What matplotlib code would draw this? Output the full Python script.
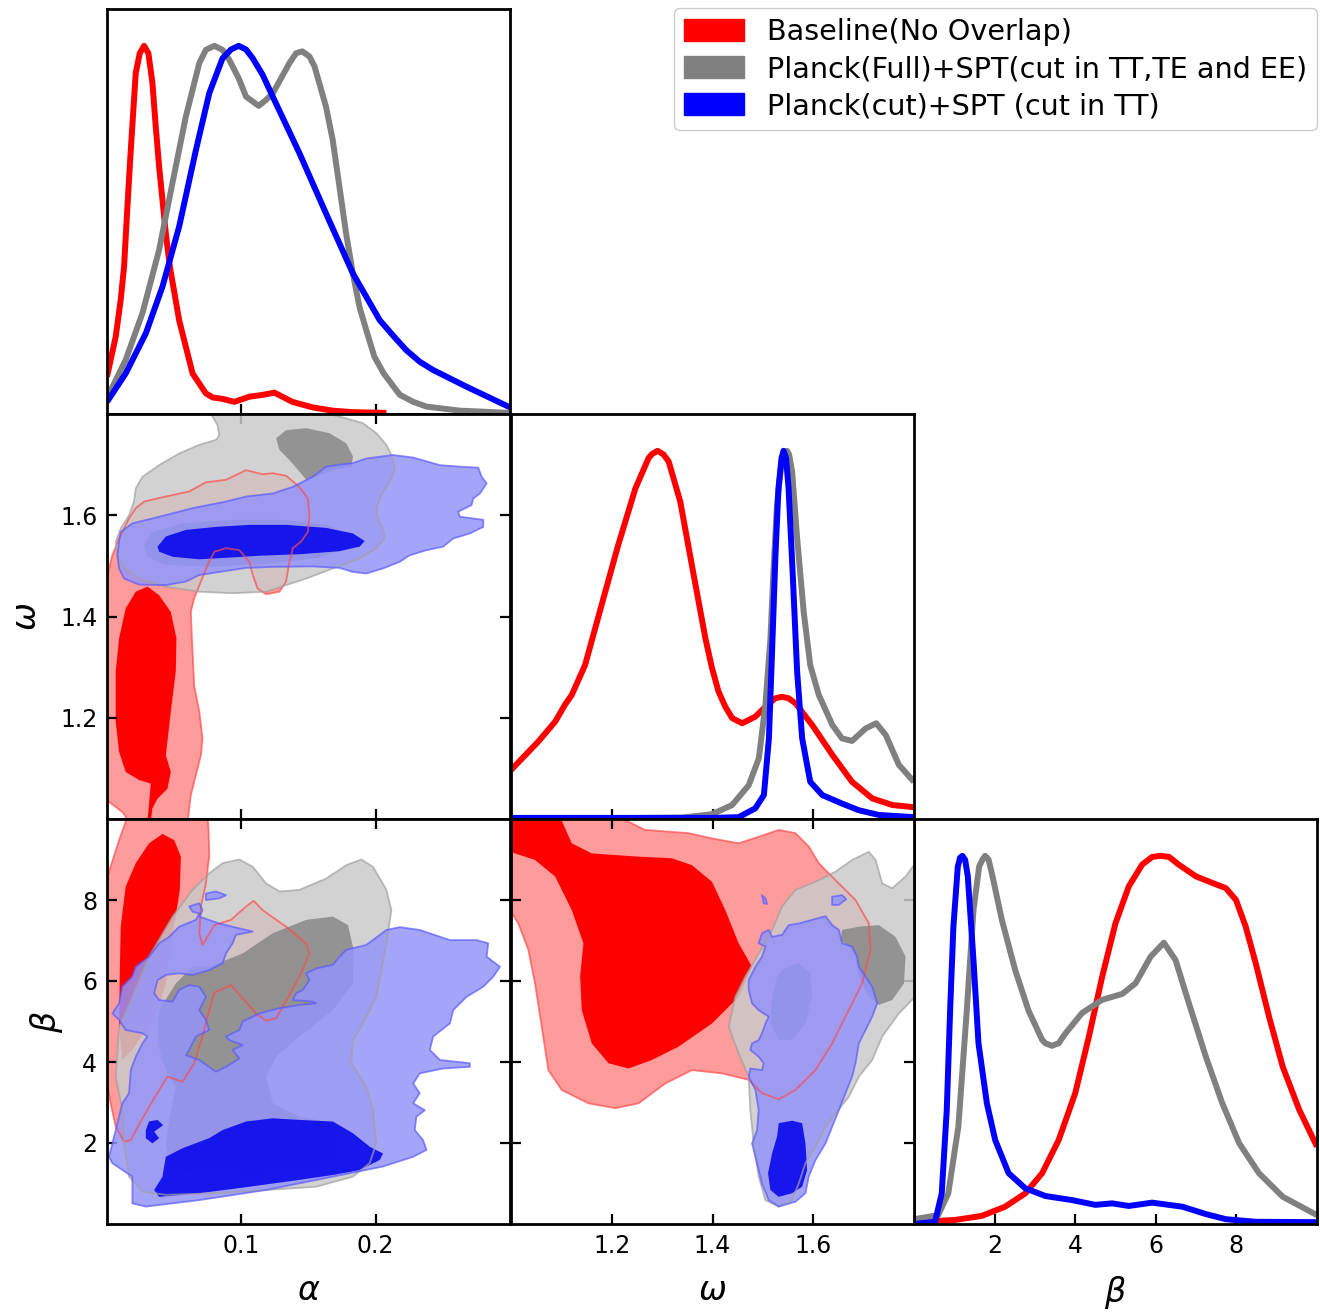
import numpy as np
import matplotlib.pyplot as plt
from matplotlib.patches import Patch

# ---------------- 1D marginals (normalised, peak = 1) ----------------
alpha_red_x = [0.0, 0.0027, 0.0065, 0.0102, 0.0127, 0.0152, 0.0177, 0.0214, 0.0244, 0.0276, 0.0308, 0.0338,
               0.0363, 0.0388, 0.0438, 0.0468, 0.0537, 0.0637, 0.0736, 0.0786, 0.086, 0.0948, 0.106, 0.116,
               0.1246, 0.138, 0.153, 0.168, 0.183, 0.208]
alpha_red_p = [0.101, 0.147, 0.21, 0.31, 0.40, 0.563, 0.717, 0.926, 0.98, 1.0, 0.98, 0.90,
               0.78, 0.672, 0.49, 0.40, 0.255, 0.11, 0.056, 0.045, 0.041, 0.033, 0.047, 0.052,
               0.058, 0.033, 0.018, 0.009, 0.005, 0.003]
alpha_gray_x = [0.0, 0.0139, 0.0264, 0.0388, 0.0487, 0.0587, 0.0687, 0.0736, 0.0799, 0.086, 0.091, 0.098,
                0.1035, 0.1129, 0.1184, 0.1234, 0.1358, 0.1408, 0.1453, 0.1507, 0.1545, 0.163, 0.168, 0.173,
                0.178, 0.183, 0.188, 0.193, 0.199, 0.206, 0.218, 0.228, 0.238, 0.263, 0.3]
alpha_gray_p = [0.043, 0.147, 0.274, 0.446, 0.627, 0.808, 0.953, 0.989, 1.0, 0.989, 0.962, 0.912,
                0.862, 0.837, 0.853, 0.871, 0.953, 0.98, 0.985, 0.971, 0.944, 0.835, 0.745, 0.618,
                0.49, 0.382, 0.29, 0.228, 0.156, 0.11, 0.052, 0.033, 0.02, 0.009, 0.003]
alpha_blue_x = [0.0, 0.0139, 0.0289, 0.0413, 0.0537, 0.0662, 0.0761, 0.086, 0.0923, 0.098, 0.1035, 0.1085,
                0.1159, 0.1234, 0.1433, 0.163, 0.183, 0.203, 0.2137, 0.2226, 0.2328, 0.2425, 0.2677, 0.3]
alpha_blue_p = [0.033, 0.11, 0.219, 0.346, 0.509, 0.717, 0.871, 0.966, 0.99, 1.0, 0.99, 0.966,
                0.921, 0.862, 0.708, 0.545, 0.382, 0.255, 0.21, 0.174, 0.142, 0.12, 0.074, 0.018]

omega_red_x = [1.0, 1.054, 1.0875, 1.107, 1.1206, 1.147, 1.18, 1.213, 1.247, 1.273, 1.2797, 1.291, 1.3028,
               1.313, 1.336, 1.359, 1.386, 1.399, 1.412, 1.4254, 1.439, 1.459, 1.485, 1.512, 1.525, 1.538,
               1.551, 1.565, 1.598, 1.638, 1.677, 1.717, 1.757, 1.8]
omega_red_p = [0.133, 0.21, 0.264, 0.31, 0.337, 0.418, 0.582, 0.745, 0.898, 0.98, 0.991, 1.0, 0.99,
               0.971, 0.862, 0.69, 0.49, 0.41, 0.346, 0.305, 0.274, 0.26, 0.278, 0.314, 0.328, 0.332,
               0.328, 0.314, 0.255, 0.174, 0.101, 0.056, 0.038, 0.032]
omega_gray_x = [1.0, 1.2, 1.34, 1.399, 1.439, 1.472, 1.492, 1.505, 1.515, 1.521, 1.528, 1.538, 1.543, 1.548,
                1.552, 1.558, 1.568, 1.581, 1.594, 1.611, 1.638, 1.657, 1.677, 1.704, 1.725, 1.744, 1.77, 1.8]
omega_gray_p = [0.002, 0.002, 0.004, 0.013, 0.038, 0.092, 0.165, 0.31, 0.49, 0.672, 0.853, 0.98, 0.995, 1.0,
                0.99, 0.944, 0.763, 0.563, 0.418, 0.337, 0.255, 0.219, 0.212, 0.246, 0.26, 0.228, 0.147, 0.101]
omega_blue_x = [1.0, 1.2, 1.4, 1.452, 1.485, 1.502, 1.512, 1.518, 1.525, 1.531, 1.537, 1.541, 1.546, 1.551,
                1.559, 1.568, 1.578, 1.594, 1.618, 1.657, 1.69, 1.73, 1.8]
omega_blue_p = [0.003, 0.003, 0.003, 0.005, 0.029, 0.065, 0.219, 0.446, 0.717, 0.899, 0.98, 1.0, 0.98, 0.899,
                0.672, 0.4, 0.219, 0.101, 0.065, 0.042, 0.024, 0.011, 0.005]

beta_red_x = [0.0, 1.02, 1.68, 2.26, 2.76, 3.18, 3.59, 4.0, 4.34, 4.67, 5.0, 5.33, 5.66, 5.91, 6.12, 6.33,
              6.57, 7.0, 7.32, 7.74, 7.99, 8.23, 8.48, 8.81, 9.15, 9.56, 10.0]
beta_red_p = [0.005, 0.011, 0.022, 0.047, 0.083, 0.138, 0.228, 0.355, 0.509, 0.672, 0.817, 0.917, 0.976,
              0.997, 1.0, 0.997, 0.976, 0.944, 0.93, 0.912, 0.88, 0.808, 0.708, 0.563, 0.427, 0.31, 0.21]
beta_gray_x = [0.0, 0.6, 0.85, 1.1, 1.31, 1.476, 1.617, 1.7, 1.766, 1.85, 1.949, 2.18, 2.51, 2.84, 3.18,
               3.26, 3.42, 3.59, 3.76, 4.17, 4.67, 5.17, 5.5, 5.87, 6.2, 6.49, 6.82, 7.24, 7.65, 8.07, 8.56,
               9.15, 10.0]
beta_gray_p = [0.013, 0.024, 0.083, 0.264, 0.58, 0.853, 0.971, 0.99, 1.0, 0.99, 0.944, 0.826, 0.69, 0.58,
               0.5, 0.491, 0.484, 0.491, 0.518, 0.573, 0.609, 0.625, 0.654, 0.726, 0.764, 0.717, 0.6, 0.455,
               0.328, 0.219, 0.138, 0.074, 0.024]
beta_blue_x = [0.0, 0.522, 0.688, 0.813, 0.896, 0.978, 1.087, 1.144, 1.2, 1.269, 1.335, 1.476, 1.6, 1.808,
               2.015, 2.347, 2.76, 3.26, 3.92, 4.5, 4.92, 5.33, 5.91, 6.66, 7.24, 7.74, 8.48, 10.0]
beta_blue_p = [0.0, 0.006, 0.083, 0.31, 0.58, 0.808, 0.971, 0.995, 1.0, 0.989, 0.944, 0.717, 0.491, 0.328,
               0.228, 0.138, 0.097, 0.076, 0.065, 0.052, 0.056, 0.049, 0.058, 0.047, 0.027, 0.013, 0.006, 0.005]

# ---------------- 2D credible regions (outlines) ----------------
# (alpha, omega)
aw_red_outer = [(0.0, 1.479), (0.004, 1.521), (0.009, 1.554), (0.0164, 1.594), (0.0214, 1.614), (0.0276, 1.627),
                (0.0438, 1.637), (0.0612, 1.647), (0.0736, 1.665), (0.0886, 1.670), (0.1035, 1.689),
                (0.1159, 1.681), (0.1234, 1.683), (0.1333, 1.678), (0.1433, 1.656), (0.1495, 1.633),
                (0.1507, 1.600), (0.1495, 1.567), (0.1445, 1.548), (0.1383, 1.535), (0.1358, 1.508),
                (0.1333, 1.469), (0.1284, 1.449), (0.1184, 1.444), (0.1122, 1.455), (0.1085, 1.482),
                (0.106, 1.508), (0.0985, 1.531), (0.0886, 1.535), (0.0799, 1.528), (0.0749, 1.502),
                (0.0699, 1.469), (0.0649, 1.436), (0.0624, 1.409), (0.0632, 1.357), (0.0649, 1.264),
                (0.0687, 1.212), (0.0711, 1.159), (0.0699, 1.126), (0.0662, 1.087), (0.0624, 1.047),
                (0.0600, 0.995), (0.0164, 0.995), (0.0114, 1.014), (0.0, 1.037)]
aw_red_inner = [(0.0065, 1.291), (0.009, 1.357), (0.0139, 1.416), (0.0214, 1.449), (0.0301, 1.459),
                (0.0388, 1.442), (0.0475, 1.409), (0.0517, 1.357), (0.0512, 1.291), (0.0475, 1.212),
                (0.0438, 1.126), (0.0475, 1.093), (0.0450, 1.060), (0.0376, 1.040), (0.0338, 1.021),
                (0.0326, 0.995), (0.0301, 0.995), (0.0326, 1.070), (0.0239, 1.077), (0.0139, 1.093),
                (0.009, 1.133), (0.0065, 1.192), (0.0065, 1.258)]
aw_gray_outer = [(0.0774, 1.80), (0.0823, 1.778), (0.0836, 1.758), (0.0811, 1.749), (0.0687, 1.739),
                 (0.0537, 1.722), (0.0388, 1.699), (0.0264, 1.676), (0.0214, 1.653), (0.0201, 1.627),
                 (0.0164, 1.600), (0.0102, 1.574), (0.0065, 1.548), (0.0077, 1.521), (0.0127, 1.495),
                 (0.0239, 1.475), (0.0438, 1.459), (0.0687, 1.449), (0.0935, 1.446), (0.1184, 1.449),
                 (0.1333, 1.462), (0.1483, 1.475), (0.1682, 1.495), (0.188, 1.515), (0.2005, 1.535),
                 (0.2067, 1.554), (0.2055, 1.574), (0.2017, 1.594), (0.2005, 1.614), (0.2042, 1.640),
                 (0.2104, 1.666), (0.2142, 1.689), (0.2129, 1.712), (0.208, 1.739), (0.2005, 1.762),
                 (0.1905, 1.782), (0.1731, 1.795), (0.165, 1.80)]
aw_gray_inner = [(0.1259, 1.752), (0.1333, 1.768), (0.1483, 1.772), (0.1657, 1.762), (0.1781, 1.742),
                 (0.1831, 1.716), (0.1818, 1.696), (0.1682, 1.689), (0.1582, 1.679), (0.1483, 1.670),
                 (0.1433, 1.686), (0.1358, 1.709), (0.1284, 1.729)]
aw_gray_inner2 = [(0.0276, 1.541), (0.0338, 1.567), (0.0562, 1.584), (0.0935, 1.591), (0.1308, 1.591),
                  (0.1632, 1.581), (0.1806, 1.561), (0.1794, 1.535), (0.1557, 1.515), (0.1184, 1.505),
                  (0.0811, 1.498), (0.0438, 1.502), (0.0301, 1.518)]
aw_blue_outer = [(0.009, 1.548), (0.0102, 1.567), (0.0189, 1.584), (0.0388, 1.597), (0.0637, 1.614),
                 (0.0886, 1.627), (0.1035, 1.637), (0.1234, 1.643), (0.1383, 1.656), (0.1532, 1.676),
                 (0.1632, 1.696), (0.1731, 1.700), (0.1831, 1.703), (0.193, 1.712), (0.2129, 1.719),
                 (0.2279, 1.714), (0.2478, 1.699), (0.2627, 1.696), (0.2764, 1.694), (0.2789, 1.676),
                 (0.2826, 1.663), (0.2776, 1.643), (0.2726, 1.633), (0.2714, 1.620), (0.2614, 1.607),
                 (0.2627, 1.597), (0.2801, 1.591), (0.2801, 1.577), (0.2701, 1.564), (0.2577, 1.554),
                 (0.2502, 1.538), (0.2378, 1.531), (0.2254, 1.521), (0.2179, 1.508), (0.2055, 1.495),
                 (0.193, 1.485), (0.1831, 1.488), (0.1731, 1.496), (0.1532, 1.499), (0.1234, 1.498),
                 (0.1035, 1.496), (0.0836, 1.488), (0.0687, 1.482), (0.0587, 1.469), (0.0438, 1.462),
                 (0.0239, 1.463), (0.0127, 1.475), (0.009, 1.495), (0.0077, 1.521)]
aw_blue_inner = [(0.0376, 1.538), (0.0438, 1.558), (0.0587, 1.571), (0.0811, 1.577), (0.106, 1.581),
                 (0.1333, 1.581), (0.1632, 1.575), (0.1831, 1.564), (0.1918, 1.549), (0.1881, 1.538),
                 (0.1731, 1.529), (0.1433, 1.523), (0.1134, 1.520), (0.0886, 1.516), (0.0687, 1.513),
                 (0.0488, 1.518), (0.0388, 1.528)]

# (alpha, beta)
ab_red_outer = [(0.0152, 10.05), (0.009, 9.48), (0.0027, 8.82), (-0.001, 8.41), (-0.001, 3.64), (0.0027, 2.98),
                (0.0065, 2.40), (0.0127, 2.03), (0.0177, 2.07), (0.0251, 2.53), (0.0351, 3.10), (0.045, 3.64),
                (0.0562, 3.51), (0.0649, 3.97), (0.0711, 4.63), (0.0761, 5.28), (0.0799, 5.71), (0.0923, 5.90),
                (0.101, 5.57), (0.1109, 5.20), (0.1184, 5.02), (0.1259, 5.08), (0.1358, 5.65), (0.1445, 6.19),
                (0.1507, 6.68), (0.1483, 6.93), (0.1333, 7.34), (0.1159, 7.75), (0.1092, 7.98), (0.1035, 7.84),
                (0.0923, 7.51), (0.0799, 7.38), (0.0711, 6.89), (0.0687, 7.18), (0.0699, 7.84), (0.0736, 8.41),
                (0.0761, 9.07), (0.0756, 9.73), (0.0749, 10.05)]
ab_red_inner = [(0.0413, 9.63), (0.05, 9.48), (0.055, 9.07), (0.0542, 8.25), (0.0507, 7.51), (0.0468, 6.68),
                (0.0438, 5.94), (0.0376, 5.28), (0.0289, 4.79), (0.0189, 4.30), (0.0114, 4.05), (0.009, 4.87),
                (0.0095, 6.11), (0.0102, 7.34), (0.0139, 8.33), (0.0214, 8.91), (0.0313, 9.40)]
ab_gray_outer = [(0.0761, 8.66), (0.0861, 8.91), (0.0985, 9.00), (0.1085, 8.82), (0.1184, 8.41), (0.1284, 8.21),
                 (0.1433, 8.25), (0.1632, 8.53), (0.1781, 8.86), (0.1893, 9.00), (0.198, 8.82), (0.208, 8.25),
                 (0.2117, 7.75), (0.208, 6.93), (0.2005, 5.61), (0.1905, 4.95), (0.1831, 4.54), (0.1818, 3.97),
                 (0.193, 3.39), (0.198, 2.81), (0.2005, 1.99), (0.1955, 1.50), (0.1831, 1.17), (0.1557, 0.92),
                 (0.1184, 0.84), (0.0811, 0.76), (0.0438, 0.72), (0.0264, 0.80), (0.0164, 1.17), (0.0127, 1.99),
                 (0.0114, 2.81), (0.0065, 3.64), (0.009, 4.87), (0.0189, 5.61), (0.0313, 6.60), (0.0488, 7.59),
                 (0.0637, 8.25)]
ab_gray_inner = [(0.0761, 6.35), (0.101, 6.68), (0.1234, 7.18), (0.1483, 7.51), (0.1682, 7.59), (0.1794, 7.38),
                 (0.1836, 6.77), (0.1831, 5.94), (0.1682, 5.28), (0.1433, 4.63), (0.1259, 4.13), (0.1184, 3.64),
                 (0.1234, 2.98), (0.1433, 2.65), (0.1682, 2.49), (0.1756, 1.99), (0.1682, 1.50), (0.1433, 1.25),
                 (0.106, 1.21), (0.0687, 1.25), (0.0463, 1.33), (0.0438, 1.99), (0.0475, 2.81), (0.0512, 3.39),
                 (0.0438, 3.80), (0.0376, 4.46), (0.0388, 5.28), (0.0512, 5.94), (0.0637, 6.35)]
ab_blue_outer = [(0.0612, 7.84), (0.0687, 7.92), (0.0711, 7.75), (0.0687, 7.59), (0.0836, 7.42), (0.0985, 7.30),
                 (0.1085, 7.22), (0.096, 7.14), (0.0935, 6.93), (0.0886, 6.68), (0.0861, 6.44), (0.0761, 6.27),
                 (0.0637, 6.15), (0.0537, 6.19), (0.0438, 6.15), (0.0376, 6.02), (0.0351, 5.70), (0.0388, 5.53),
                 (0.0488, 5.49), (0.0537, 5.78), (0.0612, 5.90), (0.0687, 5.86), (0.0736, 5.61), (0.0687, 5.28),
                 (0.0736, 5.04), (0.0761, 4.79), (0.0662, 4.63), (0.0612, 4.30), (0.0587, 4.17), (0.0687, 4.05),
                 (0.0811, 3.76), (0.0886, 3.88), (0.0985, 4.09), (0.0935, 4.30), (0.101, 4.42), (0.091, 4.54),
                 (0.0886, 4.63), (0.0985, 4.79), (0.101, 5.00), (0.1134, 5.20), (0.1284, 5.33), (0.1433, 5.41),
                 (0.1557, 5.45), (0.1532, 5.49), (0.1383, 5.53), (0.1408, 5.70), (0.1458, 5.78), (0.1507, 6.02),
                 (0.1483, 6.19), (0.1557, 6.31), (0.1682, 6.40), (0.1731, 6.60), (0.1781, 6.77), (0.193, 6.89),
                 (0.208, 7.26), (0.2179, 7.33), (0.2328, 7.26), (0.2552, 7.01), (0.2751, 7.01), (0.2838, 6.93),
                 (0.2826, 6.60), (0.2925, 6.35), (0.2876, 6.11), (0.2801, 5.86), (0.2677, 5.61), (0.2577, 5.28),
                 (0.2552, 4.95), (0.2428, 4.63), (0.2403, 4.30), (0.2478, 4.05), (0.2701, 3.97), (0.2701, 3.88),
                 (0.2502, 3.84), (0.2328, 3.72), (0.2279, 3.47), (0.2328, 3.23), (0.2279, 2.98), (0.2366, 2.81),
                 (0.2303, 2.65), (0.2291, 2.32), (0.2353, 2.07), (0.2378, 1.83), (0.2279, 1.66), (0.2055, 1.42),
                 (0.1682, 1.17), (0.1184, 0.84), (0.0687, 0.59), (0.0289, 0.43), (0.0189, 0.51), (0.0189, 1.17),
                 (0.004, 1.50), (0.0015, 1.66), (0.004, 1.99), (0.0065, 2.32), (0.0114, 2.98), (0.0164, 3.23),
                 (0.0177, 3.80), (0.0214, 4.13), (0.0264, 4.46), (0.0301, 4.63), (0.0264, 4.71), (0.0139, 4.79),
                 (0.009, 5.04), (0.004, 5.20), (0.009, 5.45), (0.0114, 5.86), (0.0189, 6.11), (0.0214, 6.35),
                 (0.0313, 6.60), (0.0388, 6.93), (0.0463, 7.09), (0.0537, 7.34), (0.0662, 7.51), (0.0687, 7.67),
                 (0.0637, 7.71)]
ab_blue_island = [(0.0736, 8.16), (0.0811, 8.21), (0.0886, 8.12), (0.0836, 8.04), (0.0736, 8.00)]
ab_blue_inner = [(0.0438, 1.66), (0.0562, 1.87), (0.0761, 2.12), (0.0861, 2.32), (0.1035, 2.53), (0.1234, 2.61),
                 (0.1433, 2.57), (0.1682, 2.53), (0.1831, 2.24), (0.1955, 1.91), (0.2055, 1.74), (0.203, 1.58),
                 (0.188, 1.33), (0.1682, 1.21), (0.1433, 1.09), (0.106, 0.92), (0.0687, 0.76), (0.0388, 0.67),
                 (0.0351, 0.84), (0.0413, 1.17), (0.0425, 1.42)]
ab_blue_inner_island = [(0.0313, 2.53), (0.0376, 2.57), (0.0418, 2.44), (0.0351, 2.28), (0.0388, 2.12),
                        (0.0338, 1.99), (0.0289, 2.12), (0.0289, 2.32)]

# (omega, beta)
wb_red_outer = [(1.2134, 10.05), (1.2664, 9.73), (1.3526, 9.65), (1.3989, 9.52), (1.4520, 9.40), (1.4917, 9.56),
                (1.5315, 9.73), (1.5646, 9.65), (1.5911, 9.32), (1.6110, 8.91), (1.6441, 8.49), (1.6839, 8.00),
                (1.7104, 7.42), (1.7137, 6.77), (1.6971, 5.94), (1.6640, 5.12), (1.6375, 4.46), (1.6044, 3.80),
                (1.5646, 3.31), (1.5315, 3.08), (1.4983, 3.23), (1.4718, 3.56), (1.4188, 3.72), (1.3592, 3.80),
                (1.3062, 3.47), (1.2532, 2.98), (1.2068, 2.86), (1.1537, 2.98), (1.1007, 3.31), (1.0742, 3.80),
                (1.0610, 4.87), (1.0477, 5.94), (1.0345, 6.77), (1.0146, 7.42), (0.998, 7.75), (0.998, 10.05)]
wb_red_inner = [(0.998, 9.19), (0.998, 10.05), (1.0974, 10.05), (1.1206, 9.40), (1.1604, 9.15), (1.2532, 9.07),
                (1.3194, 9.03), (1.3592, 8.86), (1.3989, 8.45), (1.4254, 7.75), (1.4520, 6.93), (1.4785, 6.35),
                (1.4520, 5.61), (1.3989, 4.95), (1.3327, 4.38), (1.2797, 4.05), (1.2333, 3.84), (1.1935, 3.97),
                (1.1604, 4.46), (1.1405, 5.28), (1.1372, 6.11), (1.1438, 6.93), (1.1206, 7.75), (1.0875, 8.58),
                (1.0477, 8.99)]
wb_gray_outer = [(1.4321, 4.87), (1.4453, 5.61), (1.4652, 6.11), (1.4917, 6.68), (1.5182, 7.26), (1.5381, 7.84),
                 (1.5646, 8.25), (1.6044, 8.45), (1.6441, 8.70), (1.6773, 8.99), (1.7104, 9.19), (1.7237, 8.99),
                 (1.7369, 8.41), (1.7568, 8.29), (1.7833, 8.58), (1.802, 8.90), (1.802, 5.61), (1.7700, 5.20),
                 (1.7369, 4.63), (1.7170, 4.05), (1.6905, 3.64), (1.6706, 3.14), (1.6441, 2.73), (1.6243, 2.40),
                 (1.6044, 1.91), (1.5845, 1.50), (1.5712, 1.00), (1.5580, 0.59), (1.5315, 0.43), (1.5050, 0.59),
                 (1.4917, 1.17), (1.4818, 1.99), (1.4751, 2.81), (1.4718, 3.64), (1.4520, 4.21)]
wb_gray_inner = [(1.6574, 7.26), (1.6905, 7.34), (1.7303, 7.38), (1.7634, 7.09), (1.7833, 6.60), (1.7800, 5.94),
                 (1.7568, 5.53), (1.7303, 5.41), (1.7104, 5.61), (1.6905, 6.11), (1.6839, 6.60), (1.6706, 6.85),
                 (1.6541, 7.01)]
wb_gray_inner2 = [(1.5381, 6.27), (1.5712, 6.44), (1.5944, 6.19), (1.5977, 5.61), (1.5845, 4.95), (1.5580, 4.54),
                  (1.5315, 4.54), (1.5149, 4.95), (1.5182, 5.61), (1.5282, 6.11)]
wb_blue_outer = [(1.4917, 6.93), (1.4983, 7.18), (1.5116, 7.26), (1.5182, 7.09), (1.5381, 7.14), (1.5514, 7.38),
                 (1.5712, 7.42), (1.5977, 7.51), (1.6243, 7.60), (1.6375, 7.38), (1.6508, 7.26), (1.6574, 6.93),
                 (1.6773, 6.85), (1.6872, 6.60), (1.6905, 6.35), (1.7038, 6.11), (1.7170, 5.86), (1.7270, 5.45),
                 (1.7170, 5.12), (1.7038, 4.79), (1.6905, 4.46), (1.6839, 3.97), (1.6773, 3.64), (1.6640, 3.23),
                 (1.6508, 2.81), (1.6375, 2.40), (1.6243, 1.99), (1.6044, 1.58), (1.5911, 1.17), (1.5845, 0.76),
                 (1.5646, 0.55), (1.5315, 0.43), (1.5116, 0.59), (1.4983, 1.00), (1.4884, 1.50), (1.4785, 1.99),
                 (1.4884, 2.32), (1.4917, 2.81), (1.4851, 3.31), (1.4718, 3.64), (1.4751, 3.84), (1.4983, 3.80),
                 (1.5017, 3.97), (1.4917, 4.13), (1.4751, 4.30), (1.4785, 4.46), (1.4917, 4.54), (1.4983, 4.71),
                 (1.5050, 4.95), (1.5116, 5.12), (1.4917, 5.28), (1.4785, 5.45), (1.4718, 5.78), (1.4718, 6.02),
                 (1.4851, 6.35), (1.4983, 6.60), (1.5050, 6.85)]
wb_blue_island = [(1.6375, 8.08), (1.6574, 8.12), (1.6654, 8.02), (1.6508, 7.88), (1.6375, 7.88)]
wb_blue_island2 = [(1.4983, 8.12), (1.5050, 8.04), (1.5083, 7.90), (1.5017, 7.92)]
wb_blue_inner = [(1.5315, 2.49), (1.5580, 2.55), (1.5779, 2.49), (1.5845, 1.99), (1.5878, 1.33), (1.5779, 0.92),
                 (1.5580, 0.76), (1.5315, 0.67), (1.5149, 0.84), (1.5103, 1.25), (1.5182, 1.74), (1.5282, 2.16)]

labels = ['Baseline(No Overlap)', 'Planck(Full)+SPT(cut in TT,TE and EE)', 'Planck(cut)+SPT (cut in TT)']
colors = ['red', 'gray', 'blue']
# (outer band, inner band, edge line) fill colours of each dataset
shades = {'red': ('#ff9b9b', '#ff0000', '#ff4a4a'),
          'gray': ('#cacaca', '#888888', '#a0a0a0'),
          'blue': ('#9494f9', '#0000ed', '#5a5aff')}
fill_alpha = {'red': 1.0, 'gray': 0.85, 'blue': 0.85}

alpha_lim, omega_lim, beta_lim = (0.0, 0.3), (1.0, 1.8), (0.0, 10.0)
alpha_ticks, omega_ticks, beta_ticks = [0.1, 0.2], [1.2, 1.4, 1.6], [2, 4, 6, 8]

fig = plt.figure(figsize=(13.2, 13.13), dpi=100)
W, H = 403 / 1320, 405 / 1313
cols = [107 / 1320, 511 / 1320, 914 / 1320]
rows = [1 - 414 / 1313, 1 - 819 / 1313, 1 - 1224 / 1313]


def make_ax(c, r):
    ax = fig.add_axes([cols[c], rows[r], W, H])
    for s in ax.spines.values():
        s.set_linewidth(2)
        s.set_zorder(20)
    ax.tick_params(direction='in', length=7, width=1.6, labelsize=17, pad=7)
    return ax


# 1D panels
ax_a = make_ax(0, 0)
ax_w = make_ax(1, 1)
ax_b = make_ax(2, 2)
for ax, xs, ps, lim, ticks in [
        (ax_a, [alpha_red_x, alpha_gray_x, alpha_blue_x], [alpha_red_p, alpha_gray_p, alpha_blue_p], alpha_lim, alpha_ticks),
        (ax_w, [omega_red_x, omega_gray_x, omega_blue_x], [omega_red_p, omega_gray_p, omega_blue_p], omega_lim, omega_ticks),
        (ax_b, [beta_red_x, beta_gray_x, beta_blue_x], [beta_red_p, beta_gray_p, beta_blue_p], beta_lim, beta_ticks)]:
    for x, p, c in zip(xs, ps, colors):
        ax.plot(x, p, color=c, lw=4.3, solid_joinstyle='round', solid_capstyle='butt')
    ax.set_xlim(lim)
    ax.set_ylim(0, 1.1)
    ax.set_xticks(ticks)
    ax.set_yticks([])
ax_a.tick_params(labelbottom=False)
ax_w.tick_params(labelbottom=False)
ax_b.set_xlabel(r'$\beta$', fontsize=24, labelpad=12)


def draw_2d(ax, contours):
    # contours: {name: (outer polygons, inner polygons)}; later datasets sit on top
    for k, name in enumerate(colors):
        outer, inner = contours[name]
        c_out, c_in, c_edge = shades[name]
        a = fill_alpha[name]
        for p in outer:
            p = np.array(p)
            ax.fill(p[:, 0], p[:, 1], facecolor=c_out, alpha=a, edgecolor='none', zorder=1 + k)
            ax.fill(p[:, 0], p[:, 1], facecolor='none', edgecolor=c_edge, alpha=0.7, lw=1.3,
                    joinstyle='round', zorder=10 + k)
        for p in inner:
            p = np.array(p)
            ax.fill(p[:, 0], p[:, 1], facecolor=c_in, alpha=a, edgecolor='none', zorder=1.5 + k)
    ax.tick_params(top=True, right=True)


ax_aw = make_ax(0, 1)
draw_2d(ax_aw, {'red': ([aw_red_outer], [aw_red_inner]),
                'gray': ([aw_gray_outer], [aw_gray_inner, aw_gray_inner2]),
                'blue': ([aw_blue_outer], [aw_blue_inner])})
ax_aw.set_xlim(alpha_lim)
ax_aw.set_ylim(omega_lim)
ax_aw.set_xticks(alpha_ticks)
ax_aw.set_yticks(omega_ticks)
ax_aw.tick_params(labelbottom=False)
ax_aw.set_ylabel(r'$\omega$', fontsize=24, labelpad=12)

ax_ab = make_ax(0, 2)
draw_2d(ax_ab, {'red': ([ab_red_outer], [ab_red_inner]),
                'gray': ([ab_gray_outer], [ab_gray_inner]),
                'blue': ([ab_blue_outer, ab_blue_island], [ab_blue_inner, ab_blue_inner_island])})
ax_ab.set_xlim(alpha_lim)
ax_ab.set_ylim(beta_lim)
ax_ab.set_xticks(alpha_ticks)
ax_ab.set_yticks(beta_ticks)
ax_ab.set_xlabel(r'$\alpha$', fontsize=24, labelpad=12)
ax_ab.set_ylabel(r'$\beta$', fontsize=24, labelpad=12)

ax_wb = make_ax(1, 2)
draw_2d(ax_wb, {'red': ([wb_red_outer], [wb_red_inner]),
                'gray': ([wb_gray_outer], [wb_gray_inner, wb_gray_inner2]),
                'blue': ([wb_blue_outer, wb_blue_island, wb_blue_island2], [wb_blue_inner])})
ax_wb.set_xlim(omega_lim)
ax_wb.set_ylim(beta_lim)
ax_wb.set_xticks(omega_ticks)
ax_wb.set_yticks(beta_ticks)
ax_wb.tick_params(labelleft=False)
ax_wb.set_xlabel(r'$\omega$', fontsize=24, labelpad=12)

handles = [Patch(facecolor=c, edgecolor=c) for c in colors]
fig.legend(handles, labels, loc='upper right', bbox_to_anchor=(1317 / 1320, 1 - 8 / 1313),
           fontsize=20.6, handlelength=2.1, handleheight=0.8, handletextpad=0.8, borderpad=0.35,
           frameon=True, borderaxespad=0, labelspacing=0.32, edgecolor='#cccccc', framealpha=1)

fig.savefig('out.png', dpi=100)
